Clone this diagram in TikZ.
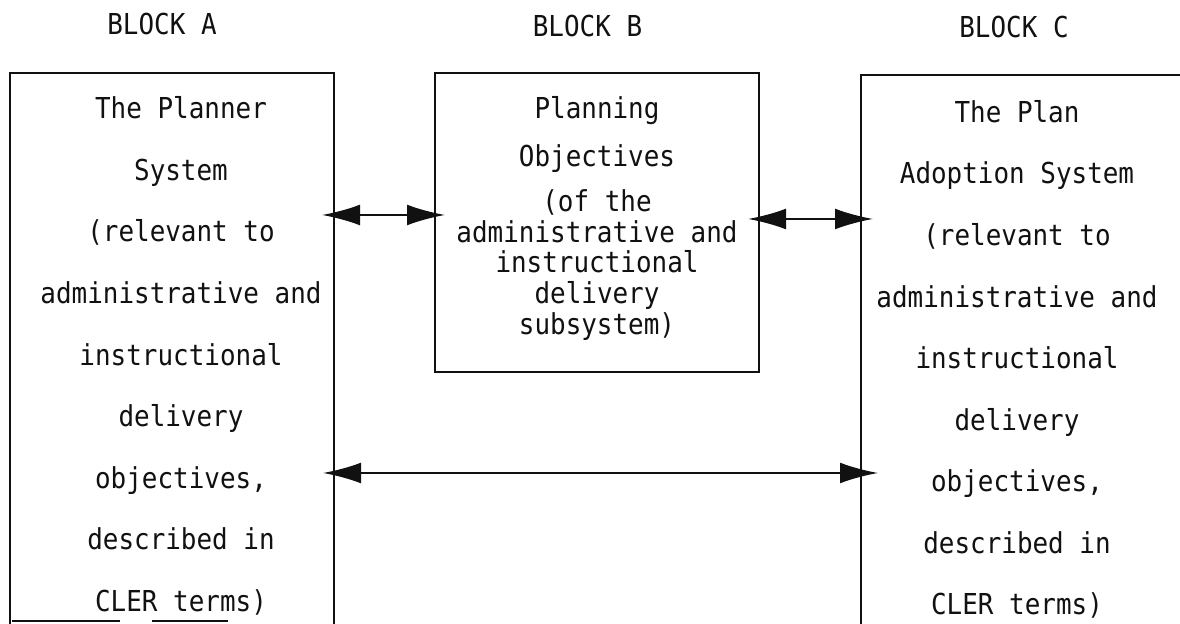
\documentclass[tikz,border=0pt]{standalone}
\usepackage{fontspec}
\usepackage{tikz}
\usetikzlibrary{arrows.meta}
\newfontfamily\typewriter[FakeStretch=0.9]{DejaVu Sans Mono}
\definecolor{inkBlack}{HTML}{111111}

\begin{document}
\begin{tikzpicture}[
  blockbox/.style={draw=inkBlack, line width=1.4pt, inner sep=0pt, outer sep=0pt, rectangle},
  blocktext/.style={font=\typewriter\fontsize{20.5}{43.8}\selectfont, text=inkBlack, align=center, inner sep=0pt, anchor=north},
  blocklabel/.style={font=\typewriter\fontsize{20.5}{24}\selectfont, text=inkBlack, anchor=base},
  linkarrow/.style={draw=inkBlack, line width=1.4pt, {Latex[length=0.95cm,width=0.52cm]}-{Latex[length=0.95cm,width=0.52cm]}}
]
  \useasboundingbox (0,0) rectangle (29.5,15.6);
  \clip (0,0) rectangle (29.5,15.6);
  \fill[white] (0,0) rectangle (29.5,15.6);

  % Headings
  \node[blocklabel] (labelA) at (4.05,14.725) {BLOCK A};
  \node[blocklabel] (labelB) at (14.6875,14.675) {BLOCK B};
  \node[blocklabel] (labelC) at (25.35,14.65) {BLOCK C};

  % Block A zone
  \node[blockbox, minimum width=8.1cm, minimum height=14.275cm] (boxA) at (4.3,6.6375) {};
  \draw[draw=inkBlack, line width=1.4pt] (0.3,0.075) -- (3.0,0.075) (3.8,0.075) -- (5.7,0.075);
  \node[blocktext] (textA) at (4.525,13.19) {The Planner\\System\\(relevant to\\administrative and\\instructional\\delivery\\objectives,\\described in\\CLER terms)};

  % Block B zone
  \node[blockbox, minimum width=8.1cm, minimum height=7.475cm] (boxB) at (14.925,10.0375) {};
  \node[blocktext, font=\typewriter\fontsize{20.5}{22}\selectfont] (textB) at (14.925,13.2) {Planning\\[12pt]Objectives\\[10pt](of the\\administrative and\\instructional\\delivery\\subsystem)};

  % Block C zone
  \node[blockbox, minimum width=9cm, minimum height=14.225cm] (boxC) at (26.025,6.6125) {};
  \node[blocktext] (textC) at (25.425,13.1) {The Plan\\Adoption System\\(relevant to\\administrative and\\instructional\\delivery\\objectives,\\described in\\CLER terms)};

  % Links
  \coordinate (linkAB) at (0,10.225);
  \coordinate (linkBC) at (0,10.125);
  \coordinate (linkAC) at (0,3.775);
  \draw[linkarrow, shorten <=-0.3cm, shorten >=-0.25cm] (boxA.east |- linkAB) -- (boxB.west |- linkAB);
  \draw[linkarrow, shorten <=-0.275cm, shorten >=-0.3cm] (boxB.east |- linkBC) -- (boxC.west |- linkBC);
  \draw[linkarrow, shorten <=-0.275cm, shorten >=-0.425cm] (boxA.east |- linkAC) -- (boxC.west |- linkAC);
\end{tikzpicture}
\end{document}
